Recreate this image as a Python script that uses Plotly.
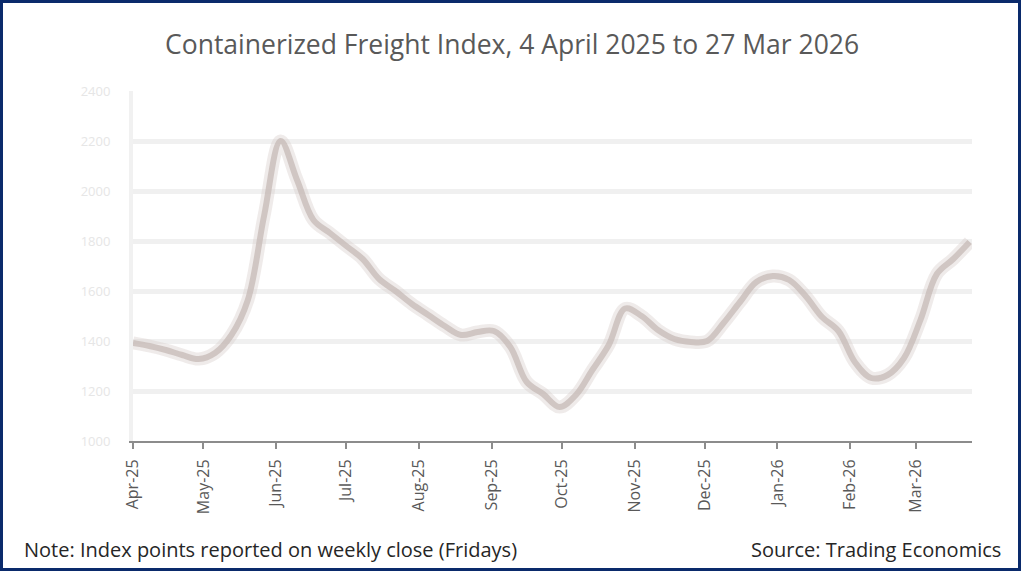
import plotly.graph_objects as go
import pandas as pd

dates = pd.date_range("2025-04-04", "2026-03-27", freq="7D")
values = [1392, 1380, 1364, 1344, 1328, 1352, 1424, 1564, 1904, 2200,
          2044, 1884, 1832, 1780, 1728, 1648, 1600, 1548, 1504, 1460,
          1424, 1436, 1440, 1376, 1236, 1188, 1136, 1184, 1284, 1384,
          1530, 1500, 1444, 1408, 1396, 1400, 1472, 1556, 1636, 1660,
          1644, 1580, 1496, 1440, 1316, 1252, 1264, 1332, 1484, 1668,
          1728, 1796]
y_ticks = [1000, 1200, 1400, 1600, 1800, 2000, 2200, 2400]
y_tick_labels = ["1000", "1200", "1400", "1600", "1800", "2000", "2200", "2400"]

title = "Containerized Freight Index, 4 April 2025 to 27 Mar 2026"
note = "Note: Index points reported on weekly close (Fridays)"
source = "Source: Trading Economics"

W, H = 1024, 576
L, R, T, B = 133, 52, 91, 135
pw, ph = W - L - R, H - T - B

def px(x):
    return (x - L) / pw

def py(y):
    return 1 - (y - T) / ph

FONT = "Open Sans"

fig = go.Figure()
# soft halo + core to mimic the blurred line
fig.add_trace(go.Scatter(x=dates, y=values, mode="lines", line_shape="spline",
                         line=dict(color="rgba(215,205,202,0.4)", width=13),
                         hoverinfo="skip", showlegend=False))
fig.add_trace(go.Scatter(x=dates, y=values, mode="lines", line_shape="spline",
                         line=dict(color="rgba(198,186,182,0.75)", width=6),
                         showlegend=False))

fig.update_layout(
    width=W, height=H,
    margin=dict(l=L, r=R, t=T, b=B),
    paper_bgcolor="white", plot_bgcolor="white",
    font=dict(family=FONT, color="#595959"),
    xaxis=dict(
        range=["2025-04-04", "2026-03-28"],
        tick0="2025-04-04", dtick="M1", tickformat="%b-%y",
        tickangle=-90, tickfont=dict(family=FONT, size=16, color="#595959"),
        ticklabelstandoff=4,
        showline=True, linecolor="#8c8c8c", linewidth=2,
        ticks="outside", ticklen=6, tickcolor="#8c8c8c", tickwidth=2,
        showgrid=False, zeroline=False,
    ),
    yaxis=dict(
        range=[1000, 2400], tickvals=y_ticks, ticktext=y_tick_labels,
        tickfont=dict(size=13, color="#e6e6e6"), ticklabelstandoff=16,
        showgrid=True, gridcolor="#f0f0f0", gridwidth=5,
        showline=True, linecolor="#f1f1f1", linewidth=4,
        zeroline=False,
    ),
    shapes=[dict(type="rect", xref="paper", yref="paper",
                 x0=px(1.5), x1=px(1019.5), y0=py(569.5), y1=py(1.5),
                 line=dict(color="#0a2a6b", width=3), fillcolor="rgba(0,0,0,0)",
                 layer="above")],
    annotations=[
        dict(text=title, xref="paper", yref="paper", x=px(512), y=py(44),
             xanchor="center", yanchor="middle", showarrow=False,
             font=dict(family=FONT, size=26.5, color="#595959")),
        dict(text=note, xref="paper", yref="paper", x=px(22), y=py(549),
             xanchor="left", yanchor="middle", showarrow=False,
             font=dict(family=FONT, size=20, color="#262626")),
        dict(text=source, xref="paper", yref="paper", x=px(1003), y=py(549),
             xanchor="right", yanchor="middle", showarrow=False,
             font=dict(family=FONT, size=20, color="#262626")),
    ],
)

fig.write_html("out.html", config={"displayModeBar": False},
               post_script="document.body.style.margin='0';document.body.style.padding='0';")
